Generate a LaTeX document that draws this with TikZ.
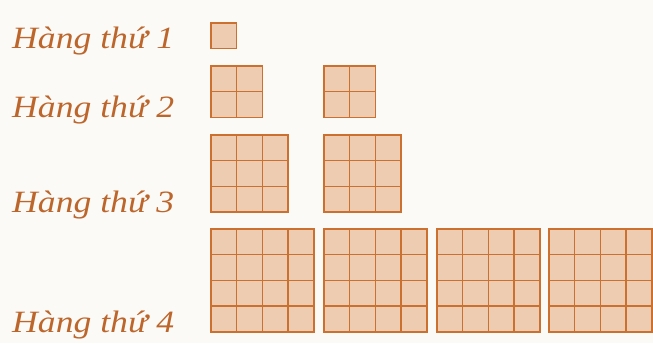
\documentclass[tikz,border=0pt]{standalone}
\usepackage{fontspec}
\setmainfont{Liberation Serif}[FakeStretch=1.15]
\definecolor{nauchu}{rgb}{0.74,0.40,0.17}
\definecolor{camvien}{rgb}{0.80,0.44,0.19}
\definecolor{camnhat}{rgb}{0.93,0.80,0.70}
\definecolor{nennhat}{rgb}{0.99,0.98,0.97}
\tikzset{
  nhan/.style={
    anchor=base west,
    inner sep=0pt,
    text=nauchu,
    font=\itshape\fontsize{31}{31}\selectfont
  },
  ovuong/.style={
    draw=camvien,
    fill=camnhat,
    line width=1.4pt
  },
  vach/.style={
    draw=camvien,
    line width=1.3pt
  }
}
% #1,#2: goc tren trai, #3: so o moi canh
\newcommand{\luoi}[3]{%
  \begin{scope}[shift={(#1,#2)}]
    \draw[ovuong] (0,0) rectangle ({#3*\oc},{#3*\oc});
    \foreach \k in {1,...,#3}{
      \ifnum\k<#3
        \draw[vach] ({\k*\oc},0) -- ({\k*\oc},{#3*\oc});
        \draw[vach] (0,{\k*\oc}) -- ({#3*\oc},{\k*\oc});
      \fi
    }
  \end{scope}}
\def\oc{25.7}

\begin{document}
\begin{tikzpicture}[x=1pt,y=-1pt]
\fill[nennhat] (0,0) rectangle (653,343);
\useasboundingbox (0,0) rectangle (653,343);
% hang 1
\node[nhan] (h1) at (12,48) {Hàng thứ 1};
\luoi{211}{23}{1}
% hang 2
\node[nhan] (h2) at (12,117) {Hàng thứ 2};
\luoi{211}{66}{2}
\luoi{324}{66}{2}
% hang 3
\node[nhan] (h3) at (12,212) {Hàng thứ 3};
\luoi{211}{135}{3}
\luoi{324}{135}{3}
% hang 4
\node[nhan] (h4) at (12,332) {Hàng thứ 4};
\foreach \x in {211,324,437,549}{
  \luoi{\x}{229}{4}
}
\end{tikzpicture}
\end{document}
